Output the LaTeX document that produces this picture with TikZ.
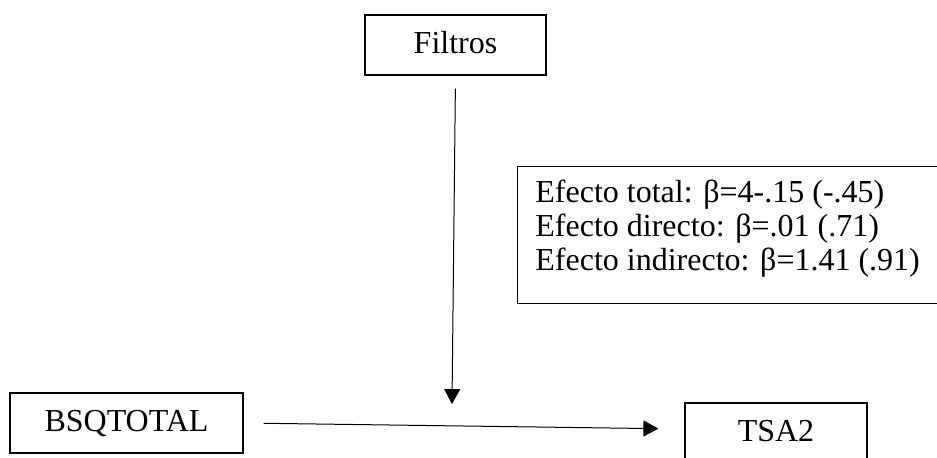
\documentclass[tikz,border=0pt]{standalone}
\usepackage{fontspec}
\setmainfont{Liberation Serif}
\usetikzlibrary{arrows.meta}

\begin{document}
\begin{tikzpicture}[x=0.5pt,y=-0.5pt,
  caja/.style={draw,line width=0.6pt,inner sep=0pt,minimum height=30pt,
    text height=11.5pt,text depth=3.5pt,font=\fontsize{16}{19}\selectfont},
  flecha/.style={->,>={Triangle[length=7.5pt,width=8pt]},line width=0.5pt}]
\useasboundingbox (0,0) rectangle (937,457);
\clip (0,0) rectangle (937,457);
\node[caja,minimum width=90.5pt] (filtros) at (455.5,45) {Filtros};
\node[caja,minimum width=116.5pt] (bsq) at (126.5,423) {BSQTOTAL};
\node[caja,minimum width=91pt] (tsa) at (776,433) {TSA2};
\node[draw,line width=0.6pt,inner sep=0pt,minimum width=230pt,minimum height=68.5pt,
  anchor=north west] (efectos) at (517,166) {};
\node[anchor=base west,inner sep=0pt,font=\fontsize{16}{17.2}\selectfont] (textoefectos)
  at ([shift={(18,36)}]efectos.north west)
  {\begin{tabular}[t]{@{}l@{}}
  Efecto total: β=4-.15 (-.45)\\
  Efecto directo: β=.01 (.71)\\
  Efecto indirecto: β=1.41 (.91)
  \end{tabular}};
\coordinate (cruce) at (452,404);
\draw[flecha,shorten <=6.5pt] (filtros.south) -- (cruce);
\draw[flecha,shorten <=10pt,shorten >=13pt] (bsq.east) -- ([yshift=2pt]tsa.west);
\end{tikzpicture}
\end{document}
